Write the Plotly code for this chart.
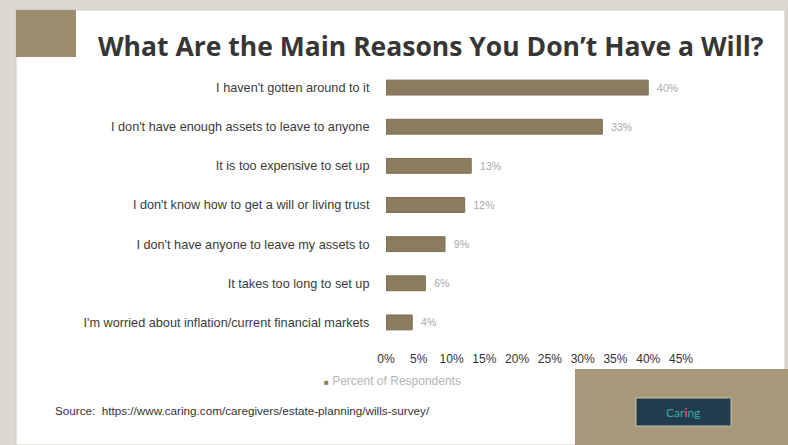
import plotly.graph_objects as go

categories = [
    "I haven't gotten around to it",
    "I don't have enough assets to leave to anyone",
    "It is too expensive to set up",
    "I don't know how to get a will or living trust",
    "I don't have anyone to leave my assets to",
    "It takes too long to set up",
    "I'm worried about inflation/current financial markets",
]
values = [40, 33, 13, 12, 9, 6, 4]
tick_vals = [0, 5, 10, 15, 20, 25, 30, 35, 40, 45]
tick_text = ["0%", "5%", "10%", "15%", "20%", "25%", "30%", "35%", "40%", "45%"]
series_name = "Percent of Respondents"

W, H = 788, 445
L, R, T, B = 386, 681, 68, 342  # plot area in pixels
BAR_COLOR = "#8b7c5f"


def px(x):
    return (x - L) / (R - L)


def py(y):
    return (B - y) / (B - T)


fig = go.Figure()
fig.add_trace(go.Bar(
    x=values[::-1],
    y=categories[::-1],
    orientation="h",
    name=series_name,
    marker=dict(color=BAR_COLOR, line=dict(color="#7d6f55", width=1)),
    text=[f"\u00a0\u00a0{v}%" for v in values[::-1]],
    textposition="outside",
    textfont=dict(family="Liberation Sans, Arial", size=10.5, color="#a8a8a8"),
    cliponaxis=False,
    showlegend=False,
))

shapes = []
# white slide
shapes.append(dict(type="rect", xref="paper", yref="paper",
                   x0=px(16), x1=px(785), y0=py(445), y1=py(10),
                   fillcolor="white", line=dict(color="#cfcac0", width=1), layer="below"))
# top-left brown block
shapes.append(dict(type="rect", xref="paper", yref="paper",
                   x0=px(16), x1=px(76), y0=py(57), y1=py(10),
                   fillcolor="#9b8d6e", line=dict(width=0), layer="below"))
# bottom-right brown block
shapes.append(dict(type="rect", xref="paper", yref="paper",
                   x0=px(575), x1=px(788), y0=py(445), y1=py(369),
                   fillcolor="#a69878", line=dict(width=0), layer="below"))
# logo box
shapes.append(dict(type="rect", xref="paper", yref="paper",
                   x0=px(636), x1=px(731), y0=py(426), y1=py(398),
                   fillcolor="#1f3d4c", line=dict(color="#c9c2b0", width=1), layer="above"))

annotations = [
    dict(text="<b>What Are the Main Reasons You Don\u2019t Have a Will?</b>",
         xref="paper", yref="paper", x=px(431), y=py(46), xanchor="center", yanchor="middle",
         showarrow=False, font=dict(family="Open Sans", size=26.5, color="#363636")),
    dict(text="Source:  https://www.caring.com/caregivers/estate-planning/wills-survey/",
         xref="paper", yref="paper", x=px(53), y=py(410), xanchor="left", yanchor="middle",
         showarrow=False, font=dict(family="Liberation Sans, Arial", size=11.7, color="#333333")),
    dict(text=f"<span style='color:{BAR_COLOR};font-size:8px'>\u25a0</span> {series_name}",
         xref="paper", yref="paper", x=px(322), y=py(381), xanchor="left", yanchor="middle",
         showarrow=False, font=dict(family="Liberation Sans, Arial", size=12, color="#b5b5b5")),
    dict(text="<span style='color:#3fa9a0'>Car</span><span style='color:#e2497e'><b>i</b></span><span style='color:#3fa9a0'>ng</span>",
         xref="paper", yref="paper", x=px(683), y=py(412), xanchor="center", yanchor="middle",
         showarrow=False, font=dict(family="Lato", size=12)),
]

fig.update_layout(
    width=W, height=H,
    margin=dict(l=L, r=W - R, t=T, b=H - B, pad=0),
    paper_bgcolor="#dcd8d0",
    plot_bgcolor="rgba(0,0,0,0)",
    bargap=0.62,
    shapes=shapes,
    annotations=annotations,
    xaxis=dict(range=[0, 45], tickvals=tick_vals, ticktext=tick_text,
               showgrid=False, zeroline=False, showline=False,
               ticks="outside", ticklen=6, tickcolor="rgba(0,0,0,0)",
               tickfont=dict(family="Liberation Sans, Arial", size=12, color="#333333")),
    yaxis=dict(showgrid=False, zeroline=False, showline=False,
               ticks="outside", ticklen=13, tickcolor="rgba(0,0,0,0)",
               tickfont=dict(family="Liberation Sans, Arial", size=12.7, color="#3a3a3a")),
    showlegend=False,
)

fig.write_html("out.html")
